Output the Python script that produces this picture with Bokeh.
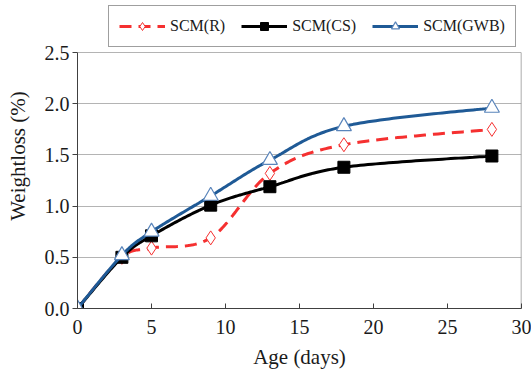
from bokeh.plotting import figure
from bokeh.models import Range1d, Legend, LegendItem, FixedTicker, CustomJSTickFormatter
from bokeh.embed import file_html
from bokeh.resources import INLINE
import numpy as np

# Mass loss measured at each curing age
age_days = [0, 3, 5, 9, 13, 18, 28]
scm_r = [0.0, 0.50, 0.59, 0.69, 1.32, 1.60, 1.75]
scm_cs = [0.0, 0.50, 0.71, 1.01, 1.19, 1.38, 1.49]
scm_gwb = [0.0, 0.52, 0.75, 1.10, 1.45, 1.78, 1.96]

x_ticks = [0, 5, 10, 15, 20, 25, 30]
y_ticks = [0.0, 0.5, 1.0, 1.5, 2.0, 2.5]


def smooth(xs, ys, steps=40):
    """Cubic Bezier path through the points (Catmull-Rom tangents)."""
    pts = np.column_stack([xs, ys]).astype(float)
    n = len(pts)
    out = [pts[0]]
    for i in range(n - 1):
        p0 = pts[max(i - 1, 0)]
        p1 = pts[i]
        p2 = pts[i + 1]
        p3 = pts[min(i + 2, n - 1)]
        c1 = p1 + (p2 - p0) / 6.0
        c2 = p2 - (p3 - p1) / 6.0
        t = np.linspace(0, 1, steps)[1:, None]
        seg = ((1 - t) ** 3) * p1 + 3 * ((1 - t) ** 2) * t * c1 + 3 * (1 - t) * t ** 2 * c2 + t ** 3 * p2
        out.extend(seg)
    out = np.array(out)
    return out[:, 0], out[:, 1]


FONT = "Times New Roman"
RED = "#f53030"
BLUE = "#1f5a96"
TRI = "#5a85bb"
INK = "#1a1a1a"

# The frame runs to the top of the figure so the legend can sit above the
# 2.5 line; axis, grid and right border are bounded to the 0..2.5 band.
p = figure(width=531, height=378, output_backend="svg", toolbar_location=None,
           x_range=Range1d(0, 30), y_range=Range1d(0, 2.98),
           min_border_left=77, min_border_right=10, min_border_top=3, min_border_bottom=70)

p.background_fill_color = "white"
p.border_fill_color = "white"
p.outline_line_color = None

p.xgrid.visible = False
p.ygrid.grid_line_color = "#b4b4b4"
p.ygrid.grid_line_width = 1
p.ygrid.ticker = FixedTicker(ticks=y_ticks)
p.ygrid.bounds = (0, 30)

p.xaxis.ticker = FixedTicker(ticks=x_ticks)
p.yaxis.ticker = FixedTicker(ticks=y_ticks)
p.yaxis.bounds = (0, 2.5)
p.yaxis.formatter = CustomJSTickFormatter(code="return tick.toFixed(1);")

for ax in (p.xaxis[0], p.yaxis[0]):
    ax.axis_line_color = "#404040"
    ax.axis_line_width = 1
    ax.major_tick_line_color = "#404040"
    ax.minor_tick_line_color = None
    ax.major_label_text_font = FONT
    ax.major_label_text_font_size = "20px"
    ax.major_label_text_color = INK
    ax.axis_label_text_font = FONT
    ax.axis_label_text_font_size = "21px"
    ax.axis_label_text_font_style = "normal"
    ax.axis_label_text_color = INK

p.xaxis.major_tick_in = 5
p.xaxis.major_tick_out = 0
p.xaxis.major_label_standoff = 11
p.xaxis.axis_label = "Age (days)"
p.xaxis.axis_label_standoff = 8

p.yaxis.major_tick_in = 0
p.yaxis.major_tick_out = 5
p.yaxis.major_label_standoff = 3
p.yaxis.axis_label = "Weightloss (%)"
p.yaxis.axis_label_standoff = 12

# right-hand border of the plot area
p.segment(x0=[30], y0=[0], x1=[30], y1=[2.5], line_color="#909090", line_width=1.5)

# SCM(R)
rx, ry = smooth(age_days, scm_r)
r_line = p.line(rx, ry, line_color=RED, line_width=3, line_dash="12 7")
r_pts = p.scatter(age_days, scm_r, marker="diamond", size=14, line_color=RED,
                  fill_color="white", line_width=1)

# SCM(CS)
cx, cy = smooth(age_days, scm_cs)
c_line = p.line(cx, cy, line_color="black", line_width=3)
c_pts = p.scatter(age_days, scm_cs, marker="square", size=12, line_color="black",
                  fill_color="black")

# SCM(GWB)
gx, gy = smooth(age_days, scm_gwb)
g_line = p.line(gx, gy, line_color=BLUE, line_width=3)
g_pts = p.scatter(age_days, scm_gwb, marker="triangle", size=15, line_color=TRI,
                  fill_color="white", line_width=1.2)

legend = Legend(items=[
    LegendItem(label="SCM(R)", renderers=[r_line, r_pts]),
    LegendItem(label="SCM(CS)", renderers=[c_line, c_pts]),
    LegendItem(label="SCM(GWB)", renderers=[g_line, g_pts]),
], orientation="horizontal", location=(31, 261))
legend.label_text_font = FONT
legend.label_text_font_size = "16px"
legend.label_text_color = INK
legend.glyph_width = 46
legend.glyph_height = 20
legend.label_height = 20
legend.label_standoff = 5
legend.spacing = 16
legend.padding = 10
legend.margin = 0
legend.border_line_color = "#404040"
legend.border_line_width = 1
legend.background_fill_color = "white"
legend.background_fill_alpha = 1
p.add_layout(legend, "center")

open("out.html", "w").write(file_html(p, INLINE))
